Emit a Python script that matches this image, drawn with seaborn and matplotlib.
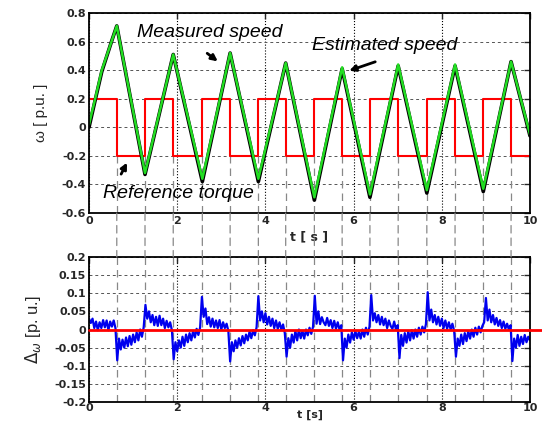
import numpy as np
import matplotlib.pyplot as plt
import seaborn as sns
from matplotlib.patches import ConnectionPatch

sns.set_style("white")
plt.rcParams["font.family"] = ["Liberation Sans", "DejaVu Sans"]
plt.rcParams["mathtext.fontset"] = "dejavusans"

# rotor speed [p.u.] - corner points
t_speed = [0, 0.14, 0.29, 0.51, 0.63, 1.27, 1.91, 2.57, 3.20, 3.84, 4.46,
           5.11, 5.74, 6.37, 7.01, 7.66, 8.30, 8.94, 9.57, 10.0]
est_speed = [0.02, 0.20, 0.40, 0.60, 0.71, -0.32, 0.51, -0.36, 0.52, -0.36, 0.45,
             -0.49, 0.42, -0.47, 0.44, -0.44, 0.44, -0.43, 0.46, -0.05]
meas_speed = [0.0, 0.19, 0.39, 0.60, 0.71, -0.33, 0.51, -0.38, 0.52, -0.38, 0.45,
              -0.51, 0.41, -0.49, 0.43, -0.46, 0.43, -0.45, 0.46, -0.06]

# reference torque (square wave)
t_switch = [0, 0.63, 1.27, 1.91, 2.57, 3.20, 3.84, 4.46, 5.11, 5.74, 6.37,
            7.01, 7.66, 8.30, 8.94, 9.57, 10.0]
torque = [0.2, -0.2, 0.2, -0.2, 0.2, -0.2, 0.2, -0.2, 0.2, -0.2, 0.2,
          -0.2, 0.2, -0.2, 0.2, -0.2, -0.2]

# speed estimation error, sampled every 0.04 s
err = [
    0.03, 0.018, 0.03, 0.004, 0.022, -0.002, 0.02, 0.004, 0.026, 0.006, 0.025, -0.002, 0.022, 0.008, 0.025, 0.004,
    -0.085,
    -0.025, -0.055, -0.028, -0.05, -0.022, -0.046, -0.018, -0.042, -0.014, -0.035, -0.008, -0.03, 0.0, -0.02, 0.006,
    0.068,
    0.03, 0.05, 0.02, 0.04, 0.012, 0.035, 0.01, 0.038, 0.012, 0.03, 0.004, 0.024, 0.006, 0.02, -0.002,
    -0.082,
    -0.035, -0.06, -0.03, -0.05, -0.02, -0.045, -0.014, -0.035, -0.01, -0.03, -0.004, -0.022, 0.002, -0.015, 0.006,
    0.09,
    0.035, 0.058, 0.015, 0.034, 0.008, 0.03, 0.006, 0.025, 0.004, 0.026, 0.0, 0.02, 0.004, 0.016, -0.004,
    -0.088,
    -0.035, -0.06, -0.03, -0.05, -0.024, -0.044, -0.018, -0.038, -0.014, -0.03, -0.006, -0.024, -0.002, -0.016, 0.006,
    0.092,
    0.025, 0.05, 0.02, 0.045, 0.014, 0.035, 0.01, 0.03, 0.004, 0.025, 0.002, 0.02, 0.0, 0.014,
    -0.01, -0.075,
    -0.024, -0.05, -0.014, -0.036, -0.004, -0.03, 0.0, -0.024, -0.004, -0.025, 0.0, -0.016, 0.005, -0.012, 0.008,
    0.093,
    0.016, 0.05, 0.015, 0.034, 0.02, 0.012, 0.032, 0.01, 0.026, 0.004, 0.024, 0.002, 0.02, 0.0, 0.012,
    -0.085,
    -0.025, -0.05, -0.014, -0.036, -0.008, -0.028, -0.004, -0.024, -0.006, -0.025, 0.0, -0.02, 0.005, -0.014, 0.008,
    0.095,
    0.025, 0.045, 0.02, 0.04, 0.014, 0.035, 0.012, 0.03, 0.004, 0.025, 0.01, 0.002, 0.022, 0.0, 0.012,
    -0.079,
    -0.015, -0.045, -0.01, -0.036, -0.004, -0.03, -0.002, -0.025, 0.0, -0.02, 0.005, -0.014, 0.008, -0.008,
    0.015, 0.103,
    0.025, 0.055, 0.02, 0.04, 0.014, 0.035, 0.01, 0.03, 0.004, 0.025, 0.002, 0.02, 0.0, 0.016, -0.004,
    -0.075,
    -0.025, -0.045, -0.014, -0.04, -0.01, -0.032, -0.004, -0.025, 0.0, -0.02, 0.005, -0.014, 0.008, -0.008, 0.01,
    0.02, 0.087,
    0.025, 0.055, 0.02, 0.04, 0.014, 0.032, 0.01, 0.026, 0.004, 0.022, 0.002, 0.016, 0.0, 0.012,
    -0.087,
    -0.025, -0.05, -0.015, -0.045, -0.02, -0.04, -0.015, -0.035, -0.02, -0.03,
]
t_err = np.linspace(0, 10, len(err))
zero_t = [0.0, 10.3]
zero_ref = [0.0, 0.0]

top_yticks = [-0.6, -0.4, -0.2, 0, 0.2, 0.4, 0.6, 0.8]
top_ylabels = ["-0.6", "-0.4", "-0.2", "0", "0.2", "0.4", "0.6", "0.8"]
bot_yticks = [-0.2, -0.15, -0.1, -0.05, 0, 0.05, 0.1, 0.15, 0.2]
bot_ylabels = ["-0.2", "-0.15", "-0.1", "-0.05", "0", "0.05", "0.1", "0.15", "0.2"]
xticks = [0, 2, 4, 6, 8, 10]
xlabels = ["0", "2", "4", "6", "8", "10"]

fig = plt.figure(figsize=(5.42, 4.21), dpi=100)
ax1 = fig.add_axes([0.1642, 0.494, 0.8137, 0.475])
ax2 = fig.add_axes([0.1642, 0.0451, 0.8137, 0.3444])

# top: speeds and torque
sns.lineplot(x=t_switch, y=torque, ax=ax1, color="red", lw=1.5,
             drawstyle="steps-post", estimator=None, sort=False)
sns.lineplot(x=t_speed, y=meas_speed, ax=ax1, color="black", lw=2.6,
             estimator=None, sort=False)
sns.lineplot(x=t_speed, y=est_speed, ax=ax1, color="#22dd22", lw=1.8,
             estimator=None, sort=False)

# bottom: estimation error
sns.lineplot(x=zero_t, y=zero_ref, ax=ax2, color="red", lw=2,
             estimator=None, sort=False, clip_on=False, zorder=3)
sns.lineplot(x=t_err, y=err, ax=ax2, color="#0000ee", lw=1.6,
             estimator=None, sort=False, zorder=2)

ax1.set_xlim(0, 10)
ax1.set_ylim(-0.6, 0.8)
ax2.set_xlim(0, 10)
ax2.set_ylim(-0.2, 0.2)

# switching instants, dashed across both panels
sw = t_switch[1:-1]
dash = dict(color="#888888", lw=0.9, linestyles=(0, (6, 4)), zorder=0.8)
ax1.vlines(sw, -0.6, -0.2, **dash)
ax2.vlines(sw, -0.2, 0.2, **dash)
for t in sw:
    con = ConnectionPatch(xyA=(t, -0.6), coordsA=ax1.transData,
                          xyB=(t, 0.2), coordsB=ax2.transData,
                          color="#888888", lw=0.9, ls=(0, (6, 4)))
    fig.add_artist(con)

for ax, yt, yl in [(ax1, top_yticks, top_ylabels), (ax2, bot_yticks, bot_ylabels)]:
    ax.set_xticks(xticks)
    ax.set_xticklabels(xlabels)
    ax.set_yticks(yt)
    ax.set_yticklabels(yl)
    ax.tick_params(direction="in", top=True, right=True, length=4, width=1,
                   labelsize=8, pad=2)
    for lab in ax.get_xticklabels() + ax.get_yticklabels():
        lab.set_fontweight("bold")
        lab.set_fontfamily("DejaVu Sans")
    ax.yaxis.grid(True, ls=(0, (3, 3)), color="#555555", lw=0.7)
    ax.xaxis.grid(True, ls=":", color="black", lw=0.8)
    ax.set_axisbelow(True)
    for s in ax.spines.values():
        s.set_color("black")
        s.set_linewidth(1.3)
ax2.tick_params(axis="x", pad=1)

ax1.set_xlabel("t [ s ]", fontsize=9, fontweight="bold", family="DejaVu Sans", labelpad=3)
ax1.set_ylabel("ω [ p.u. ]", fontsize=11, labelpad=10)
ax2.set_xlabel("t [s]", fontsize=8, fontweight="bold", family="DejaVu Sans", va="bottom")
ax2.xaxis.set_label_coords(0.5, -0.122)
ax2.set_ylabel(r"$\Delta_{\omega}$ [p. u.]", fontsize=12, labelpad=8)

# annotations
txt = dict(fontsize=14, style="italic", va="center", ha="left", color="black")
ax1.text(1.08, 0.665, "Measured speed", **txt)
ax1.text(5.05, 0.575, "Estimated speed", **txt)
ax1.text(0.32, -0.465, "Reference torque", **txt)
arrow = dict(arrowstyle="-|>", color="black", lw=2, mutation_scale=9)
ax1.annotate("", xy=(2.97, 0.45), xytext=(2.63, 0.53), arrowprops=arrow)
ax1.annotate("", xy=(5.84, 0.39), xytext=(6.55, 0.465), arrowprops=arrow)
ax1.annotate("", xy=(0.89, -0.23), xytext=(0.70, -0.345), arrowprops=arrow)

fig.savefig("out.png", dpi=100)
